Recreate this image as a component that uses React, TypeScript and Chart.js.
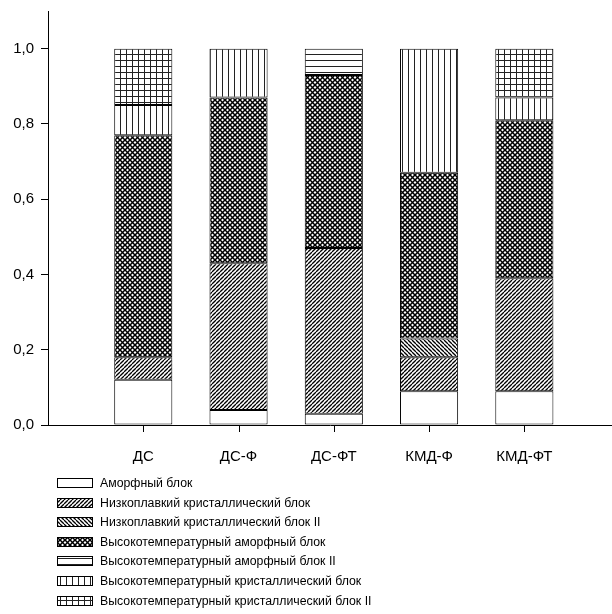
import React, { useEffect, useRef } from "react";
import { Chart, registerables } from "chart.js";
Chart.register(...registerables);

const categories = ["ДС", "ДС-Ф", "ДС-ФТ", "КМД-Ф", "КМД-ФТ"];
const seriesNames = [
  "Аморфный блок",
  "Низкоплавкий кристаллический блок",
  "Низкоплавкий кристаллический блок II",
  "Высокотемпературный аморфный блок",
  "Высокотемпературный аморфный блок II",
  "Высокотемпературный кристаллический блок",
  "Высокотемпературный кристаллический блок II",
];
const amorphous = [0.12, 0.04, 0.03, 0.09, 0.09];
const lowCryst = [0.06, 0.39, 0.44, 0.09, 0.3];
const lowCryst2 = [0, 0, 0, 0.05, 0];
const htAmorph = [0.59, 0.44, 0.46, 0.44, 0.42];
const htAmorph2 = [0, 0, 0.07, 0, 0];
const htCryst = [0.08, 0.13, 0, 0.33, 0.06];
const htCryst2 = [0.15, 0, 0, 0, 0.13];
const yTicks = [0, 0.2, 0.4, 0.6, 0.8, 1.0];

const seriesValues = [amorphous, lowCryst, lowCryst2, htAmorph, htAmorph2, htCryst, htCryst2];
const patternKinds = ["none", "diag", "back", "cross", "horiz", "vert", "grid"];

const FONT = '"Liberation Sans", Arial, sans-serif';

function makePattern(kind: string): CanvasPattern | string {
  if (kind === "none") return "#ffffff";
  const s = kind === "diag" || kind === "back" ? 4 : kind === "cross" ? 5 : 6;
  const c = document.createElement("canvas");
  c.width = s;
  c.height = s;
  const g = c.getContext("2d")!;
  g.fillStyle = "#ffffff";
  g.fillRect(0, 0, s, s);
  g.strokeStyle = "#000";
  g.fillStyle = "#222";
  if (kind === "diag" || kind === "cross") {
    g.lineWidth = kind === "cross" ? 1.5 : 1.3;
    for (let k = -1; k <= 1; k++) {
      g.beginPath();
      g.moveTo(k * s, s);
      g.lineTo(k * s + s, 0);
      g.stroke();
    }
  }
  if (kind === "back" || kind === "cross") {
    g.lineWidth = kind === "cross" ? 1.5 : 1.3;
    for (let k = -1; k <= 1; k++) {
      g.beginPath();
      g.moveTo(k * s, 0);
      g.lineTo(k * s + s, s);
      g.stroke();
    }
  }
  if (kind === "horiz" || kind === "grid") g.fillRect(0, 0, s, 1);
  if (kind === "vert" || kind === "grid") g.fillRect(0, 0, 1, s);
  return g.createPattern(c, "repeat")!;
}

const tickPlugin = {
  id: "xTickMarks",
  afterDraw(chart: any) {
    const ctx = chart.ctx as CanvasRenderingContext2D;
    const xs = chart.scales.x;
    const bottom = Math.round(chart.chartArea.bottom);
    ctx.save();
    ctx.fillStyle = "#000";
    categories.forEach((_, i) => {
      const px = Math.round(xs.getPixelForValue(i + 1));
      ctx.fillRect(px, bottom, 1, 7);
    });
    ctx.restore();
  },
};

const legendPlugin = {
  id: "patternLegend",
  afterDraw(chart: any) {
    const ctx = chart.ctx as CanvasRenderingContext2D;
    const base = chart.chartArea.bottom + 58;
    ctx.save();
    chart.data.datasets.forEach((ds: any, i: number) => {
      const y = Math.round(base + i * 19.6);
      ctx.fillStyle = ds.backgroundColor;
      ctx.fillRect(57, y - 4, 36, 9);
      ctx.strokeStyle = "#000";
      ctx.lineWidth = 1;
      ctx.strokeRect(57.5, y - 4.5, 35, 9);
      ctx.fillStyle = "#000";
      ctx.font = `12.3px ${FONT}`;
      ctx.textBaseline = "middle";
      ctx.textAlign = "left";
      ctx.fillText(ds.label, 100, y + 0.5);
    });
    ctx.restore();
  },
};

export default function App() {
  const ref = useRef<HTMLCanvasElement>(null);
  useEffect(() => {
    document.body.style.margin = "0";
    const chart = new Chart(ref.current!, {
      type: "bar",
      data: {
        datasets: seriesNames.map((name, si) => ({
          label: name,
          data: categories.map((_, i) => ({ x: i + 1, y: seriesValues[si][i] })),
          backgroundColor: makePattern(patternKinds[si]) as any,
          borderColor: "#000",
          borderWidth: 1,
          borderSkipped: false,
          barPercentage: 0.61,
          categoryPercentage: 1,
        })),
      },
      options: {
        responsive: false,
        animation: false,
        devicePixelRatio: 1,
        layout: { padding: { top: 11, bottom: 139, left: 0, right: 0 } },
        plugins: { legend: { display: false }, tooltip: { enabled: false }, title: { display: false } },
        scales: {
          x: {
            type: "linear",
            min: 0,
            max: 5.92,
            stacked: true,
            offset: false,
            grid: { display: false },
            border: { display: true, color: "#000", width: 1 },
            ticks: {
              color: "#000",
              font: { family: FONT, size: 15 },
              padding: 15,
              autoSkip: false,
              maxRotation: 0,
              callback: (v: any) => categories[Math.round(v) - 1] ?? "",
            },
            afterBuildTicks: (scale: any) => {
              scale.ticks = categories.map((_, i) => ({ value: i + 1 }));
            },
            afterFit: (scale: any) => {
              scale.height = 50;
              scale.paddingLeft = 0;
              scale.paddingRight = 0;
            },
          },
          y: {
            type: "linear",
            min: 0,
            max: 1.1,
            stacked: true,
            grid: { display: true, drawOnChartArea: false, drawTicks: true, tickLength: 7, color: "#000" },
            border: { display: true, color: "#000", width: 1 },
            ticks: {
              color: "#000",
              font: { family: FONT, size: 15 },
              padding: 7,
              callback: (v: any) => Number(v).toFixed(1).replace(".", ","),
            },
            afterBuildTicks: (scale: any) => {
              scale.ticks = yTicks.map((v) => ({ value: v }));
            },
            afterFit: (scale: any) => {
              scale.width = 48;
              scale.paddingTop = 0;
              scale.paddingBottom = 0;
            },
          },
        },
      } as any,
      plugins: [tickPlugin, legendPlugin],
    });
    return () => chart.destroy();
  }, []);
  return (
    <div style={{ width: 612, height: 614 }}>
      <canvas ref={ref} width={612} height={614} style={{ display: "block" }} />
    </div>
  );
}
